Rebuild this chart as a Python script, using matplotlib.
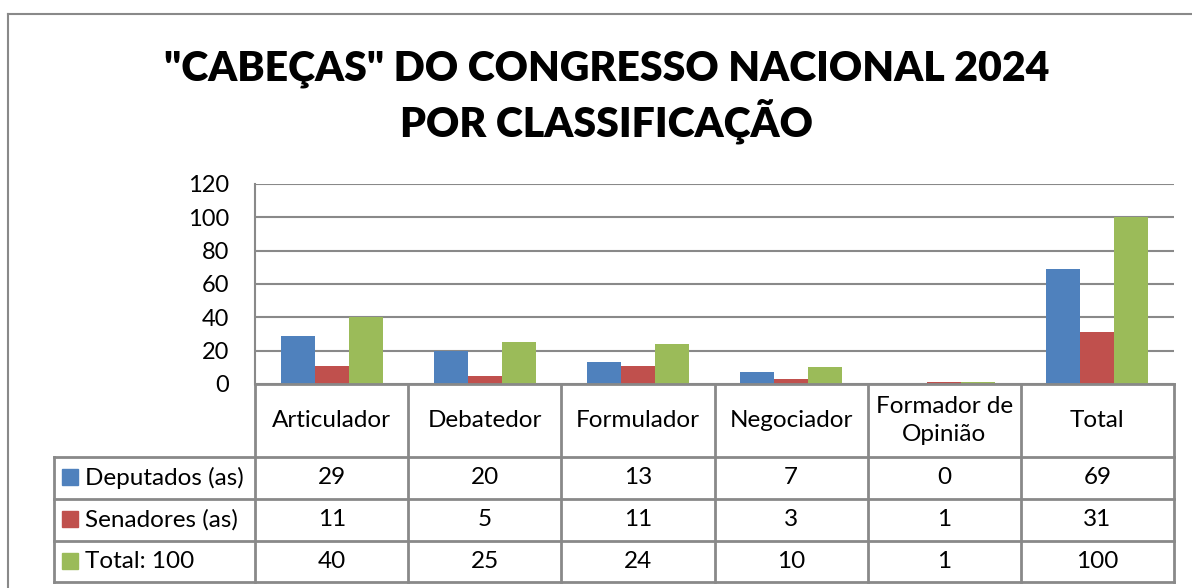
import matplotlib
matplotlib.use("Agg")
import matplotlib.pyplot as plt
from matplotlib.lines import Line2D
import numpy as np

plt.rcParams['font.family'] = ['Lato', 'DejaVu Sans']

# data
categories = ['Articulador', 'Debatedor', 'Formulador', 'Negociador', 'Formador de\nOpinião', 'Total']
series_names = ['Deputados (as)', 'Senadores (as)', 'Total: 100']
deputados = [29, 20, 13, 7, 0, 69]
senadores = [11, 5, 11, 3, 1, 31]
total = [40, 25, 24, 10, 1, 100]
yticks = [0, 20, 40, 60, 80, 100, 120]
title = '"CABEÇAS" DO CONGRESSO NACIONAL 2024\nPOR CLASSIFICAÇÃO'

colors = ['#4F81BD', '#C0504D', '#9BBB59']
grid_col = '#898989'
W, H = 1192, 588

fig = plt.figure(figsize=(W / 100, H / 100), dpi=100)

# outer chart border (cut off at right / bottom like the screenshot)
fig.add_artist(Line2D([8 / W, 8 / W], [0, (H - 14) / H], color=grid_col, lw=1.5, transform=fig.transFigure))
fig.add_artist(Line2D([8 / W, 1], [(H - 14) / H, (H - 14) / H], color=grid_col, lw=1.5, transform=fig.transFigure))

fig.text(607 / W, (H - 97) / H, title, ha='center', va='center', fontsize=29.5, fontweight='heavy',
         linespacing=1.3)

# bar axes
ax = fig.add_axes([255 / W, (H - 384) / H, 919 / W, 200 / H])
x = np.arange(len(categories))
bw = 0.222
for k, vals in enumerate([deputados, senadores, total]):
    ax.bar(x + (k - 1) * bw, vals, bw, color=colors[k], zorder=3)
ax.set_xlim(-0.5, len(categories) - 0.5)
ax.set_ylim(0, 120)
ax.set_yticks(yticks)
ax.tick_params(axis='y', length=0, pad=18.5, labelsize=17)
ax.set_xticks([])
ax.yaxis.grid(True, color=grid_col, lw=1.5, zorder=0)
for s in ['top', 'right', 'bottom']:
    ax.spines[s].set_visible(False)
ax.spines['left'].set_color(grid_col)
ax.spines['left'].set_linewidth(1.5)

# data table below
label_w = 201 / 153
x0 = -0.5 - label_w
rows = [0, 73, 115, 157, 198]
tax = fig.add_axes([54 / W, (H - 582) / H, 1120 / W, 198 / H])
tax.set_xlim(x0, len(categories) - 0.5)
tax.set_ylim(rows[-1], 0)
tax.axis('off')
lk = dict(color=grid_col, lw=2, clip_on=False, solid_capstyle='projecting')
tax.plot([-0.5, len(categories) - 0.5], [0, 0], **lk)
for r in rows[1:]:
    tax.plot([x0, len(categories) - 0.5], [r, r], **lk)
tax.plot([x0, x0], [rows[1], rows[-1]], **lk)
for i in range(len(categories) + 1):
    tax.plot([i - 0.5, i - 0.5], [0, rows[-1]], **lk)

for i, c in enumerate(categories):
    tax.text(i, (rows[0] + rows[1]) / 2, c, ha='center', va='center', fontsize=17.5, linespacing=1.45)
for k, vals in enumerate([deputados, senadores, total]):
    yc = (rows[k + 1] + rows[k + 2]) / 2
    tax.plot(x0 + 16 / 153, yc - 1, marker='s', ms=11, color=colors[k], clip_on=False)
    tax.text(x0 + 31 / 153, yc, series_names[k], ha='left', va='center', fontsize=17.5)
    for i, v in enumerate(vals):
        tax.text(i, yc, str(v), ha='center', va='center', fontsize=17.5)

fig.savefig('out.png', dpi=100, facecolor='white')
